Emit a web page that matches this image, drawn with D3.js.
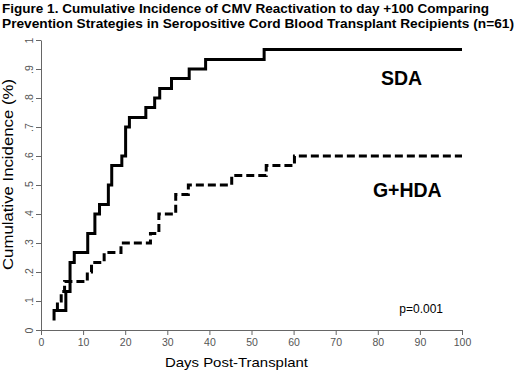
<!DOCTYPE html>
<html>
<head>
<meta charset="utf-8">
<script src="https://cdn.jsdelivr.net/npm/d3@7"></script>
<style>
  body { margin: 0; background: #fff; }
  svg { display: block; font-family: "Liberation Sans", Arial, sans-serif; }
</style>
</head>
<body>
<svg id="chart" width="520" height="372"></svg>
<script>
// step curves: day of each jump and the level after it
const sdaDays = [3.1, 3.1, 5.9, 6.9, 7.9, 11.1, 12.8, 13.9, 16, 16.8, 19.2, 20.1, 21, 24.9, 27, 28.2, 31, 35.2, 39.1, 53, 100];
const sdaVals = [0.033, 0.067, 0.133, 0.233, 0.267, 0.333, 0.4, 0.433, 0.5, 0.567, 0.6, 0.7, 0.733, 0.767, 0.8, 0.833, 0.867, 0.9, 0.933, 0.967, 0.967];
const ghdaDays = [3.9, 3.9, 4.8, 5.6, 11, 12, 15, 19, 26, 28, 32, 35, 45.3, 53.5, 60.2, 100];
const ghdaVals = [0.067, 0.1, 0.133, 0.167, 0.2, 0.233, 0.267, 0.3, 0.333, 0.4, 0.467, 0.5, 0.533, 0.567, 0.6, 0.6];

const xTicks = [0, 10, 20, 30, 40, 50, 60, 70, 80, 90, 100];
const yTicks = [0, 0.1, 0.2, 0.3, 0.4, 0.5, 0.6, 0.7, 0.8, 0.9, 1];
const yTickLabels = ["0", ".1", ".2", ".3", ".4", ".5", ".6", ".7", ".8", ".9", "1"];

const titleLines = [
  "Figure 1. Cumulative Incidence of CMV Reactivation to day +100 Comparing",
  "Prevention Strategies in Seropositive Cord Blood Transplant Recipients (n=61)"
];

const svg = d3.select("#chart");

let x = d3.scaleLinear().domain([0, 100]).range([41, 462]);
let y = d3.scaleLinear().domain([0, 1]).range([330, 40]);

// title
svg.selectAll(".title")
  .data(titleLines)
  .join("text")
  .attr("class", "title")
  .attr("x", 2)
  .attr("y", (d, i) => 13 + i * 15)
  .attr("textLength", (d, i) => i == 0 ? 487 : 512)
  .attr("lengthAdjust", "spacingAndGlyphs")
  .style("font-size", "13px")
  .style("font-weight", "bold")
  .text(d => d);

// axes
const xAxisG = svg.append("g")
  .attr("transform", "translate(0," + 330 + ")")
  .call(d3.axisBottom(x).tickValues(xTicks).tickSize(5).tickPadding(4).tickSizeOuter(0));

const yAxisG = svg.append("g")
  .attr("transform", "translate(" + 41 + ",0)")
  .call(d3.axisLeft(y).tickValues(yTicks).tickSize(5).tickSizeOuter(0)
    .tickFormat((d, i) => yTickLabels[i]));

[xAxisG, yAxisG].forEach(function (g) {
  g.select(".domain").attr("stroke", "#666");
  g.selectAll(".tick line").attr("stroke", "#666");
  g.selectAll(".tick text")
    .attr("fill", "#555")
    .style("font-size", "10.5px")
    .style("font-family", "'Liberation Sans', Arial, sans-serif");
});

// y tick labels sit rotated like in R
yAxisG.selectAll(".tick text")
  .attr("x", null)
  .attr("dy", null)
  .attr("text-anchor", "middle")
  .attr("transform", "rotate(-90)")
  .attr("y", -8);

// axis titles
svg.append("text")
  .attr("x", 165)
  .attr("y", 367)
  .attr("textLength", 143)
  .attr("lengthAdjust", "spacingAndGlyphs")
  .style("font-size", "13.5px")
  .text("Days Post-Transplant");

svg.append("text")
  .attr("transform", "translate(13,174.5) rotate(-90)")
  .attr("text-anchor", "middle")
  .attr("textLength", 191)
  .attr("lengthAdjust", "spacingAndGlyphs")
  .style("font-size", "14.5px")
  .text("Cumulative Incidence (%)");

// step lines
const stepLine = d3.line()
  .x(d => x(d[0]))
  .y(d => y(d[1]))
  .curve(d3.curveStepAfter);

svg.append("path")
  .datum(d3.zip(sdaDays, sdaVals))
  .attr("fill", "none")
  .attr("stroke", "#000")
  .attr("stroke-width", 3)
  .attr("d", stepLine);

svg.append("path")
  .datum(d3.zip(ghdaDays, ghdaVals))
  .attr("fill", "none")
  .attr("stroke", "#000")
  .attr("stroke-width", 3)
  .attr("stroke-dasharray", "8,4")
  .attr("d", stepLine);

// group labels
svg.append("text")
  .attr("x", 401.5)
  .attr("y", 85)
  .attr("text-anchor", "middle")
  .style("font-size", "19.5px")
  .style("font-weight", "bold")
  .text("SDA");

svg.append("text")
  .attr("x", 407.3)
  .attr("y", 196.7)
  .attr("text-anchor", "middle")
  .style("font-size", "19.5px")
  .style("font-weight", "bold")
  .text("G+HDA");

svg.append("text")
  .attr("x", 399.3)
  .attr("y", 313)
  .style("font-size", "12px")
  .text("p=0.001");
</script>
</body>
</html>
